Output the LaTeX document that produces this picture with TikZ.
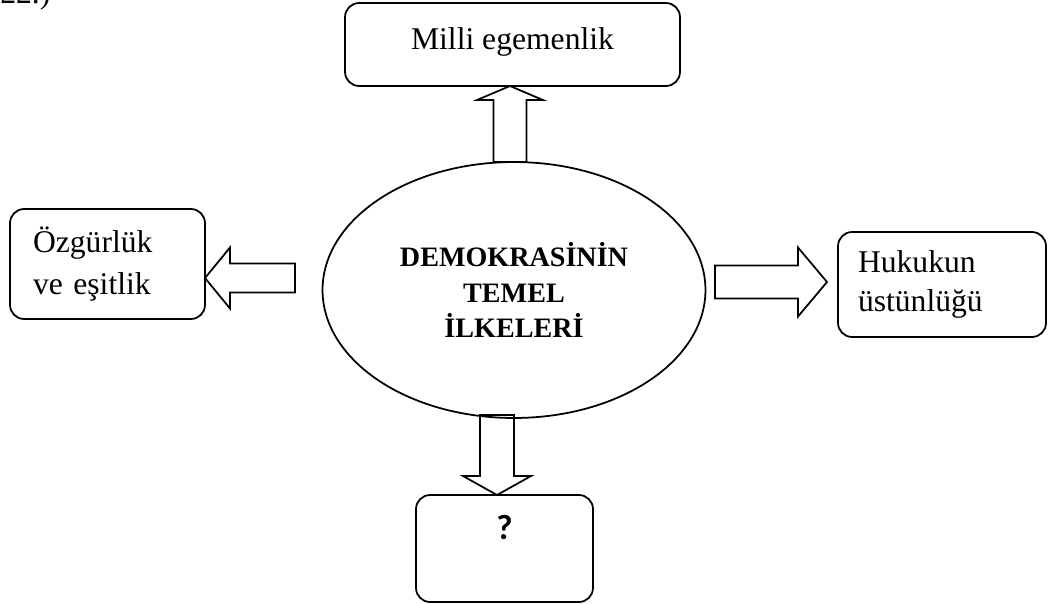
\documentclass[tikz,border=0pt]{standalone}
\usepackage{fontspec}
\setmainfont{Liberation Serif}
\newfontfamily\qfont{Carlito}
\usetikzlibrary{calc,positioning,shapes.geometric}
\tikzset{
  box/.style={draw, rounded corners=8pt, line width=1pt},
  txt/.style={font=\fontsize{18}{24}\selectfont},
  blockarrow/.style n args={3}{line width=1pt, to path={
    ($(\tikztostart)!#1!90:(\tikztotarget)$)
    -- ($(\tikztotarget)!#3!(\tikztostart)!#1!-90:(\tikztostart)$)
    -- ($(\tikztotarget)!#3!(\tikztostart)!#2!-90:(\tikztostart)$)
    -- (\tikztotarget)
    -- ($(\tikztotarget)!#3!(\tikztostart)!#2!90:(\tikztostart)$)
    -- ($(\tikztotarget)!#3!(\tikztostart)!#1!90:(\tikztostart)$)
    -- ($(\tikztostart)!#1!-90:(\tikztotarget)$)
    -- cycle}}
}
\begin{document}
\begin{tikzpicture}[x=0.02cm, y=-0.02cm]
\useasboundingbox (0,0) rectangle (1048,603);
\node[txt, anchor=base west, inner sep=0] (num) at (0,3) {22.)};
% centre
\node[draw, ellipse, line width=1pt, minimum width=7.66cm, minimum height=5.12cm, align=center, font=\fontsize{16}{20}\selectfont\bfseries] (dem) at (514,290) {DEMOKRASİNİN\\TEMEL\\İLKELERİ};
% boxes
\node[box, txt, minimum width=6.7cm, minimum height=1.66cm, text depth=0.22cm] (milli) at (512.5,44.5) {Milli egemenlik};
\node[box, txt, minimum width=3.9cm, minimum height=2.2cm, inner xsep=0.46cm, text width=2.98cm, align=left] (ozg) at (107.5,264) {Özgürlük\\ve eşitlik};
\node[box, txt, minimum width=4.16cm, minimum height=2.1cm, inner xsep=0.4cm, text width=3.36cm, align=left, font=\fontsize{18}{22}\selectfont] (huk) at (942,284.5) {Hukukun\\üstünlüğü};
\node[box, minimum width=3.54cm, minimum height=2.14cm] (qbox) at (504.5,548.5) {};
\node[inner sep=0, font=\qfont\fontsize{20}{22}\selectfont\bfseries, below=0.42cm of qbox.north] (qm) {?};
% arrows
\coordinate (upS) at (510,162);
\coordinate (upT) at (510,86);
\coordinate (lfS) at (295,278);
\coordinate (lfT) at (205,278);
\coordinate (rtS) at (715,282);
\coordinate (rtT) at (827,282);
\coordinate (dnS) at (497,415);
\coordinate (dnT) at (497,495);
\draw[blockarrow={0.33cm}{0.66cm}{0.28cm}] (upS) to (upT);
\draw[blockarrow={0.29cm}{0.61cm}{0.5cm}] (lfS) to (lfT);
\draw[blockarrow={0.33cm}{0.69cm}{0.58cm}] (rtS) to (rtT);
\draw[blockarrow={0.34cm}{0.68cm}{0.38cm}] (dnS) to (dnT);
\end{tikzpicture}
\end{document}
